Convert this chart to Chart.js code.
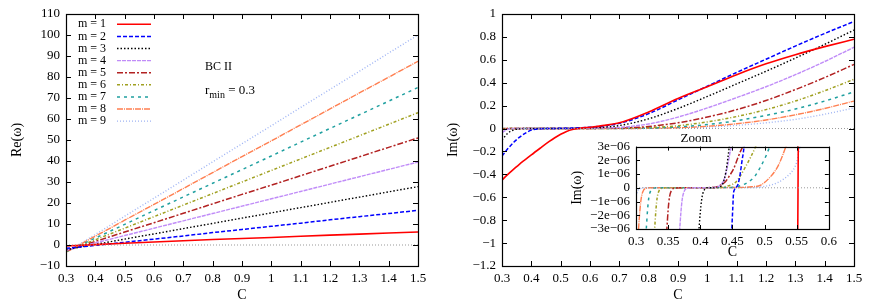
<!DOCTYPE html>
<html><head><meta charset="utf-8">
<script src="https://cdn.jsdelivr.net/npm/chart.js@4/dist/chart.umd.min.js"></script>
<style>
html,body{margin:0;padding:0;background:#fff;}
#wrap{position:relative;width:872px;height:305px;overflow:hidden;background:#fff;}
canvas{position:absolute;}
</style></head><body>
<div id="wrap">
<canvas id="re" width="436" height="305" style="left:0;top:0;width:436px;height:305px"></canvas>
<canvas id="im" width="436" height="305" style="left:436px;top:0;width:436px;height:305px"></canvas>
<canvas id="zm" width="282" height="131" style="left:560px;top:131px;width:282px;height:131px"></canvas>
</div>
<script>
// ---------- data ----------
const seriesNames = ['m = 1','m = 2','m = 3','m = 4','m = 5','m = 6','m = 7','m = 8','m = 9'];

// Left panel: Re(omega) vs C
const reC  = [0.3,0.4,0.5,0.6,0.7,0.8,0.9,1.0,1.1,1.2,1.3,1.4,1.5];
const reM1 = [-0.5,0.2,0.8,1.4,2.0,2.6,3.1,3.6,4.2,4.7,5.2,5.7,6.2];
const reM2 = [-1.6,-0.2,1.3,2.8,4.3,5.9,7.4,8.9,10.4,12.0,13.5,15.0,16.5];
const reM3 = [-2.2,0.3,2.8,5.3,7.8,10.3,12.8,15.3,17.8,20.3,22.8,25.3,27.8];
const reM4 = [-2.5,1.0,4.5,8.0,11.5,15.0,18.5,22.0,25.5,29.0,32.5,36.0,39.5];
const reM5 = [-2.8,1.7,6.2,10.6,15.1,19.6,24.1,28.5,33.0,37.5,42.0,46.5,51.0];
const reM6 = [-3.0,2.5,8.0,13.5,19.0,24.5,30.0,35.5,41.0,46.5,52.0,57.5,63.0];
const reM7 = [-3.2,3.3,9.8,16.4,22.9,29.4,35.9,42.4,49.0,55.5,62.0,68.5,75.0];
const reM8 = [-3.4,4.2,11.8,19.3,26.9,34.5,42.1,49.6,57.2,64.8,72.4,79.9,87.5];
const reM9 = [-3.6,5.0,13.7,22.3,30.9,39.6,48.2,56.8,65.5,74.1,82.7,91.4,100.0];

// Right panel: Im(omega) vs C
const imC  = [0.3,0.32,0.34,0.36,0.38,0.4,0.43,0.46,0.48,0.5,0.52,0.54,0.56,0.6,0.65,0.7,0.8,0.9,1.0,1.1,1.2,1.3,1.4,1.5];
const imM1 = [-0.45,-0.40,-0.355,-0.31,-0.27,-0.23,-0.172,-0.115,-0.08,-0.05,-0.025,-0.008,0.001,0.012,0.028,0.05,0.145,0.262,0.365,0.47,0.565,0.645,0.715,0.78];
const imM2 = [-0.24,-0.175,-0.12,-0.075,-0.04,-0.014,-0.002,0,0.001,0.002,0.003,0.004,0.006,0.012,0.024,0.045,0.13,0.25,0.37,0.49,0.605,0.72,0.83,0.935];
const imM3 = [-0.10,-0.04,-0.012,-0.003,0,0,0,0,0,0,0.001,0.001,0.002,0.006,0.013,0.026,0.085,0.175,0.28,0.39,0.50,0.615,0.735,0.86];
const imM4 = [-0.035,-0.006,0,0,0,0,0,0,0,0,0,0,0.001,0.002,0.005,0.01,0.04,0.10,0.18,0.27,0.365,0.47,0.585,0.71];
const imM5 = [-0.01,0,0,0,0,0,0,0,0,0,0,0,0,0.001,0.002,0.004,0.018,0.05,0.10,0.165,0.245,0.34,0.445,0.56];
const imM6 = [-0.004,0,0,0,0,0,0,0,0,0,0,0,0,0,0.001,0.002,0.008,0.025,0.058,0.105,0.165,0.24,0.33,0.43];
const imM7 = [0,0,0,0,0,0,0,0,0,0,0,0,0,0,0,0.001,0.004,0.014,0.035,0.068,0.115,0.17,0.24,0.32];
const imM8 = [0,0,0,0,0,0,0,0,0,0,0,0,0,0,0,0,0.002,0.007,0.02,0.042,0.075,0.12,0.175,0.24];
const imM9 = [0,0,0,0,0,0,0,0,0,0,0,0,0,0,0,0,0.001,0.004,0.012,0.028,0.05,0.08,0.125,0.18];

// Inset "Zoom": [C, Im(omega) in units of 1e-06]
const zmM1 = [[0.29,-60],[0.5515,-4],[0.5525,4],[0.61,60]];
const zmM2 = [[0.44,-20],[0.448,-4],[0.449,-3],[0.4505,-1.5],[0.4515,-0.5],[0.453,-0.15],[0.456,0.05],[0.459,0.3],[0.462,1],[0.465,2],[0.468,3],[0.47,4.5]];
const zmM3 = [[0.395,-5],[0.398,-3],[0.400,-1.8],[0.402,-0.9],[0.404,-0.4],[0.407,-0.1],[0.41,0],[0.42,0],[0.43,0.05],[0.435,0.3],[0.44,1.2],[0.443,2.2],[0.445,3],[0.447,4]];
const zmM4 = [[0.365,-5],[0.368,-3],[0.370,-1.7],[0.372,-0.8],[0.375,-0.25],[0.38,-0.03],[0.39,0],[0.42,0.02],[0.43,0.15],[0.437,0.6],[0.442,1.5],[0.446,2.5],[0.449,3.2],[0.452,4.5]];
const zmM5 = [[0.345,-5],[0.348,-3],[0.350,-1.6],[0.352,-0.7],[0.355,-0.2],[0.36,-0.03],[0.37,0],[0.42,0.02],[0.43,0.15],[0.44,0.5],[0.445,0.85],[0.452,1.4],[0.457,2.0],[0.462,2.6],[0.467,3.1],[0.47,3.6]];
const zmM6 = [[0.326,-5],[0.329,-3],[0.331,-1.6],[0.333,-0.7],[0.336,-0.2],[0.34,-0.03],[0.35,0],[0.43,0.02],[0.44,0.1],[0.45,0.25],[0.455,0.4],[0.46,0.7],[0.47,1.5],[0.478,2.2],[0.486,3],[0.49,3.5]];
const zmM7 = [[0.313,-5],[0.316,-3],[0.318,-1.6],[0.320,-0.7],[0.323,-0.2],[0.327,-0.03],[0.335,0],[0.44,0.02],[0.46,0.12],[0.474,0.4],[0.485,0.85],[0.494,1.55],[0.502,2.3],[0.508,3],[0.512,3.5]];
const zmM8 = [[0.302,-5],[0.304,-3],[0.306,-1.7],[0.308,-0.8],[0.311,-0.25],[0.315,-0.04],[0.322,0],[0.46,0.02],[0.48,0.08],[0.494,0.2],[0.51,0.85],[0.52,1.5],[0.525,2.0],[0.53,2.6],[0.533,3],[0.536,3.5]];
const zmM9 = [[0.3,-0.6],[0.303,-0.2],[0.308,-0.04],[0.315,0],[0.48,0.02],[0.5,0.1],[0.52,0.37],[0.53,0.65],[0.541,1.1],[0.548,1.6],[0.551,2.07],[0.555,3],[0.558,3.6]];

// Tick labels
const reXTicks = [0.3,0.4,0.5,0.6,0.7,0.8,0.9,1.0,1.1,1.2,1.3,1.4,1.5];
const reYTicks = [-10,0,10,20,30,40,50,60,70,80,90,100,110];
const imYTicks = [-1.2,-1,-0.8,-0.6,-0.4,-0.2,0,0.2,0.4,0.6,0.8,1];
const zmXTicks = [0.3,0.35,0.4,0.45,0.5,0.55,0.6];
const zmYTicks = [-3,-2,-1,0,1,2,3];

// ---------- styles ----------
const colors = ['#ff0000','#0000ff','#000000','#c08cf8','#b22222','#a0a020','#20a0a0','#ff7f50','#9fb4f4'];
const dashes = [[],[4,2],[1.5,2],[4,1],[6,2,2,2],[3,2,1,2],[3,4],[6,1,1,1],[1,2]];
const widths = [1.6,1.5,1.4,1.4,1.5,1.5,1.5,1.4,1.4];
const F = "'Liberation Serif','DejaVu Serif',serif";

const fmt = v => String(+(+v).toFixed(2)).replace('-', '\u2212');
const fmtE = v => v === 0 ? '0' : (v < 0 ? '\u2212' : '') + Math.abs(v) + 'e\u221206';

function mkSets(seriesX, seriesList) {
  return seriesList.map((arr, i) => ({
    label: seriesNames[i],
    data: arr.map((v, j) => ({x: seriesX[j], y: v})),
    borderColor: colors[i], borderDash: dashes[i], borderWidth: widths[i],
    pointRadius: 0, fill: false
  }));
}
function zeroSet(x0, x1) {
  return {label: '_zero', data: [{x: x0, y: 0}, {x: x1, y: 0}], borderColor: '#999999',
          borderDash: [1, 2], borderWidth: 1, pointRadius: 0, fill: false};
}

const frame = {
  id: 'frame',
  afterDatasetsDraw(chart, args, opts) {
    const {ctx, chartArea: a, scales} = chart;
    const L = opts.len || 5;
    ctx.save();
    ctx.strokeStyle = '#000'; ctx.lineWidth = 1; ctx.setLineDash([]);
    ctx.beginPath();
    scales.x.ticks.forEach(t => {
      const p = Math.round(scales.x.getPixelForValue(t.value)) + 0.5;
      ctx.moveTo(p, a.bottom); ctx.lineTo(p, a.bottom - L);
      ctx.moveTo(p, a.top); ctx.lineTo(p, a.top + L);
    });
    scales.y.ticks.forEach(t => {
      const p = Math.round(scales.y.getPixelForValue(t.value)) + 0.5;
      ctx.moveTo(a.left, p); ctx.lineTo(a.left + L, p);
      ctx.moveTo(a.right, p); ctx.lineTo(a.right - L, p);
    });
    ctx.stroke();
    ctx.lineWidth = 1.2;
    ctx.strokeRect(Math.round(a.left) + 0.5, Math.round(a.top) + 0.5,
                   Math.round(a.right - a.left), Math.round(a.bottom - a.top));
    ctx.restore();
  }
};

const legendAndText = {
  id: 'legtext',
  afterDatasetsDraw(chart) {
    const ctx = chart.ctx;
    ctx.save();
    ctx.fillStyle = '#000';
    ctx.font = '12px ' + F;
    ctx.textBaseline = 'middle';
    chart.data.datasets.forEach((ds, i) => {
      if (ds.label === '_zero') return;
      const k = seriesNames.indexOf(ds.label);
      const y = 24.3 + 12.1 * k;
      ctx.textAlign = 'right';
      ctx.fillText(ds.label, 106, y);
      ctx.strokeStyle = ds.borderColor; ctx.lineWidth = ds.borderWidth;
      ctx.setLineDash(ds.borderDash);
      ctx.beginPath(); ctx.moveTo(117, y); ctx.lineTo(151, y); ctx.stroke();
    });
    ctx.setLineDash([]);
    ctx.textAlign = 'left';
    ctx.textBaseline = 'alphabetic';
    ctx.font = '12px ' + F;
    ctx.fillText('BC II', 205, 70);
    ctx.font = '13px ' + F;
    ctx.fillText('r', 205, 94);
    const rw = ctx.measureText('r').width;
    ctx.font = '10px ' + F;
    ctx.fillText('min', 205 + rw, 98);
    const mw = ctx.measureText('min').width;
    ctx.font = '13px ' + F;
    ctx.fillText(' = 0.3', 205 + rw + mw, 94);
    ctx.restore();
  }
};

function axes(xmin, xmax, xt, ymin, ymax, yt, xw, yh, xtitle, ytitle, yfmt, fs, ypadTitle) {
  return {
    x: {type: 'linear', min: xmin, max: xmax,
        afterBuildTicks: s => { s.ticks = xt.map(v => ({value: v})); },
        afterFit: s => { s.height = yh; },
        grid: {display: false, drawTicks: false}, border: {display: false},
        ticks: {padding: 5, color: '#000', font: {family: F, size: fs}, maxRotation: 0, autoSkip: false, callback: v => fmt(v)},
        title: {display: true, text: xtitle, color: '#000', font: {family: F, size: fs + 1}, padding: {top: 0, bottom: 1}}},
    y: {type: 'linear', min: ymin, max: ymax,
        afterBuildTicks: s => { s.ticks = yt.map(v => ({value: v})); },
        afterFit: s => { s.width = xw; },
        grid: {display: false, drawTicks: false}, border: {display: false},
        ticks: {padding: 6, color: '#000', font: {family: F, size: fs}, autoSkip: false, callback: yfmt},
        title: {display: true, text: ytitle, color: '#000', font: {family: F, size: fs + 1}, padding: {top: ypadTitle, bottom: 0}}}
  };
}

const baseOpts = {
  responsive: false, animation: false, devicePixelRatio: 1,
  plugins: {legend: {display: false}, tooltip: {enabled: false}, title: {display: false}},
  elements: {line: {tension: 0}}
};

// Left chart
new Chart(document.getElementById('re'), {
  type: 'line',
  data: {datasets: [zeroSet(0.3, 1.5)].concat(mkSets(reC, [reM1,reM2,reM3,reM4,reM5,reM6,reM7,reM8,reM9]))},
  options: Object.assign({}, baseOpts, {
    layout: {padding: {top: 14, right: 18, bottom: 0, left: 0}},
    scales: axes(0.3, 1.5, reXTicks, -10, 110, reYTicks, 66, 39, 'C', 'Re(\u03c9)', v => fmt(v), 13, 9),
    plugins: Object.assign({}, baseOpts.plugins, {frame: {len: 5}})
  }),
  plugins: [frame, legendAndText]
});

// Right chart
const imSets = mkSets(imC, [imM1,imM2,imM3,imM4,imM5,imM6,imM7,imM8,imM9]);
imSets.forEach(d => { d.cubicInterpolationMode = 'monotone'; });
new Chart(document.getElementById('im'), {
  type: 'line',
  data: {datasets: [zeroSet(0.3, 1.5)].concat(imSets)},
  options: Object.assign({}, baseOpts, {
    layout: {padding: {top: 14, right: 18, bottom: 0, left: 0}},
    scales: axes(0.3, 1.5, reXTicks, -1.2, 1, imYTicks, 66, 39, 'C', 'Im(\u03c9)', v => fmt(v), 13, 9),
    plugins: Object.assign({}, baseOpts.plugins, {frame: {len: 5}})
  }),
  plugins: [frame]
});

// Inset
const zmSets = [zmM1,zmM2,zmM3,zmM4,zmM5,zmM6,zmM7,zmM8,zmM9].map((arr, i) => ({
  label: seriesNames[i],
  data: arr.map(p => ({x: p[0], y: p[1]})),
  borderColor: colors[i], borderDash: dashes[i], borderWidth: widths[i],
  pointRadius: 0, fill: false, cubicInterpolationMode: 'monotone'
}));
new Chart(document.getElementById('zm'), {
  type: 'line',
  data: {datasets: [zeroSet(0.3, 0.6)].concat(zmSets)},
  options: Object.assign({}, baseOpts, {
    layout: {padding: {top: 0, right: 10, bottom: 0, left: 0}},
    scales: axes(0.3, 0.6, zmXTicks, -3, 3, zmYTicks, 76, 33, 'C', 'Im(\u03c9)', v => fmtE(v), 13, 9),
    plugins: Object.assign({}, baseOpts.plugins, {
      frame: {len: 4},
      title: {display: true, text: 'Zoom', color: '#000', font: {family: F, size: 13, weight: 'normal'}, padding: {top: 0, bottom: 0}}
    })
  }),
  plugins: [frame]
});
</script>
</body></html>
